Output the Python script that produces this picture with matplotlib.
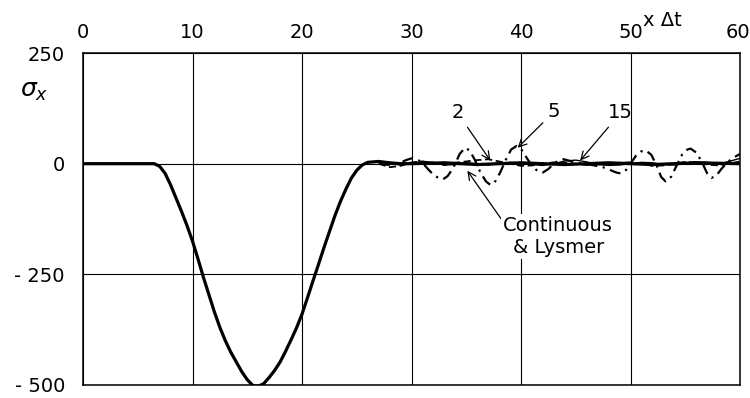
import matplotlib
matplotlib.use('Agg')
import matplotlib.pyplot as plt
import matplotlib.transforms as mtransforms

# thick solid: continuous & Lysmer boundary
t_main = [0, 2, 4, 6, 6.5, 7, 7.5, 8, 8.5, 9, 9.5, 10, 10.5, 11, 11.5, 12, 12.5, 13,
          13.5, 14, 14.5, 15, 15.5, 16, 16.5, 17, 17.5, 18, 18.5, 19, 19.5, 20, 20.5,
          21, 21.5, 22, 22.5, 23, 23.5, 24, 24.5, 25, 25.5, 26, 27, 28, 29, 30, 33, 36,
          40, 44, 48, 52, 56, 60]
s_main = [0, 0, 0, 0, 0, -6, -22, -48, -78, -108, -140, -175, -215, -257, -296, -335,
          -370, -400, -426, -448, -470, -488, -501, -503, -497, -483, -467, -448, -424,
          -398, -371, -340, -303, -265, -228, -190, -154, -118, -86, -58, -33, -15, -3,
          3, 5, 2, 0, 0, 2, -2, 2, -2, 2, -2, 2, 0]

# dash-dot: boundary "5"
t_5 = [27, 28, 29, 29.5, 30, 30.5, 31, 31.5, 32, 32.5, 32.9, 33.3, 33.7, 34, 34.4,
       34.9, 35.3, 35.8, 36.3, 36.8, 37.2, 37.6, 38.1, 38.6, 39.1, 39.6, 40.1, 40.6,
       41.1, 41.6, 42.0, 42.5, 43.0, 43.5, 43.9, 44.5, 45.5, 46.5, 47.5, 48.2, 48.7,
       49.1, 49.6, 50.0, 50.5, 51.0, 51.4, 51.9, 52.4, 52.8, 53.2, 53.7, 54.2, 54.7,
       55.2, 55.5, 56.0, 56.5, 57.0, 57.4, 57.8, 58.3, 58.8, 59.3, 60]
s_5 = [0, -3, 2, 8, 12, 10, 2, -12, -25, -33, -35, -28, -14, 0, 22, 36, 30, 8, -20,
       -40, -48, -42, -20, 8, 32, 40, 30, 10, -8, -18, -20, -12, 0, 8, 10, 6, 0, -3,
       -8, -15, -20, -22, -14, 0, 18, 28, 30, 20, -5, -30, -40, -30, -5, 20, 32, 34,
       25, 5, -22, -32, -28, -12, 2, 12, 22]

# dashed: boundary "2"
t_2 = list(range(27, 61))
s_2 = [0, -8, -5, 3, 5, 2, -3, 2, 5, 8, 10, 5, 0, -5, -4, 0, 3, 2, 0, -3, -2, 0, 2, 3,
       0, -5, -4, 0, 4, 3, -2, -4, 0, 5]

# thin solid: boundary "15"
t_15 = list(range(27, 61))
s_15 = [3, 0, -3, 0, 5, 3, -3, -2, 2, 0, -3, 0, 3, 2, -2, -4, 0, 6, 8, 4, -2, -4, -3, 0,
        3, 2, -2, -3, 0, 4, 3, -1, 5, 12]

x_ticks = [0, 10, 20, 30, 40, 50, 60]
y_ticks = [250, 0, -250, -500]
y_labels = ['250', '0', '- 250', '- 500']

fig = plt.figure(figsize=(7.5, 3.98), dpi=100)
ax = fig.add_axes([83 / 750, 1 - 385 / 398, (740 - 83) / 750, (385 - 53) / 398])

ax.plot(t_main, s_main, color='black', lw=2.3, solid_capstyle='round',
        solid_joinstyle='round', zorder=5)
ax.plot(t_5, s_5, color='black', lw=1.6, linestyle=(0, (5, 2.5, 1, 2.5)), zorder=4)
ax.plot(t_2, s_2, color='black', lw=1.3, linestyle=(0, (4, 2)), zorder=4)
ax.plot(t_15, s_15, color='black', lw=1.0, zorder=4)

ax.set_xlim(0, 60)
ax.set_ylim(-500, 250)
ax.set_xticks(x_ticks)
ax.set_yticks(y_ticks)
ax.set_yticklabels(y_labels)
ax.tick_params(axis='x', top=True, labeltop=True, bottom=False, labelbottom=False,
               length=0, pad=8, labelsize=14)
ax.tick_params(axis='y', length=0, pad=13, labelsize=14)
ax.grid(True, color='black', lw=0.8)
for sp in ax.spines.values():
    sp.set_linewidth(1.1)

# keep the last top label inside the figure
last = ax.xaxis.get_major_ticks()[-1].label2
last.set_horizontalalignment('right')
last.set_transform(mtransforms.offset_copy(last.get_transform(), fig=fig, x=10, y=0,
                                           units='dots'))

arrow = dict(arrowstyle='->', color='black', lw=0.9, shrinkA=2, shrinkB=0)
ax.annotate('2', xy=(37.2, 7), xytext=(34.2, 115), ha='center', va='center',
            fontsize=14, arrowprops=arrow)
ax.annotate('5', xy=(39.7, 36), xytext=(43.0, 117), ha='center', va='center',
            fontsize=14, arrowprops=arrow)
ax.annotate('15', xy=(45.4, 7), xytext=(49.1, 115), ha='center', va='center',
            fontsize=14, arrowprops=arrow)
ax.annotate('Continuous\n& Lysmer', xy=(35.1, -16), xytext=(43.4, -164),
            ha='center', va='center', multialignment='center', fontsize=14,
            linespacing=1.2,
            bbox=dict(boxstyle='square,pad=0.1', fc='white', ec='none'),
            arrowprops=dict(arrowstyle='->', color='black', lw=0.9,
                            relpos=(0.0, 0.85), shrinkA=0, shrinkB=0))

fig.text(34 / 750, 1 - 91 / 398, r'$\sigma_x$', fontsize=18, ha='center', va='center')
fig.text(662 / 750, 1 - 20 / 398, 'x Δt', fontsize=14, ha='center', va='center')

fig.savefig('out.png', dpi=100)
